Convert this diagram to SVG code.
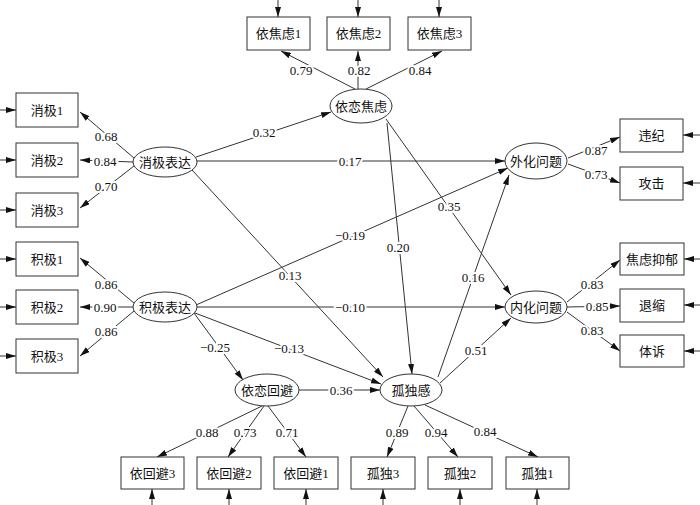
<svg xmlns="http://www.w3.org/2000/svg" width="700" height="505" viewBox="0 0 700 505">
<defs>
<marker id="a" viewBox="0 0 10 6" refX="10" refY="3" markerWidth="10" markerHeight="6" orient="auto" markerUnits="userSpaceOnUse"><path d="M0,0 L10,3 L0,6 z" fill="#111"/></marker>
<style>
text{font-family:"Liberation Serif","Noto Sans CJK SC",serif;font-size:13px;fill:#111;text-anchor:middle;dominant-baseline:central}
.n rect,.n ellipse{fill:#fff;stroke:#333;stroke-width:1}
.c path{fill:none;stroke:#333;stroke-width:1;marker-end:url(#a)}
.l text{stroke:#fff;stroke-width:4;paint-order:stroke}
</style>
</defs>
<rect width="700" height="505" fill="#fff"/>
<g class="c" id="connectors">
<path d="M196,157 L331,112"/>
<path d="M197,161 L505,161"/>
<path d="M192,170 L383,377"/>
<path d="M387,123 L412,374"/>
<path d="M386,119 L511,295"/>
<path d="M196,305 L508,168"/>
<path d="M196,307 L505,307"/>
<path d="M195,313 L381,384"/>
<path d="M194,313 L243,380"/>
<path d="M299,390 L380,390"/>
<path d="M438,377 L509,175"/>
<path d="M440,383 L511,318"/>
<path d="M355,89 L281,51"/>
<path d="M358,89 L358,51"/>
<path d="M366,89 L442,51"/>
<path d="M134,158 L80,112"/>
<path d="M133,162 L80,160"/>
<path d="M134,166 L80,208"/>
<path d="M134,303 L80,258"/>
<path d="M134,307 L80,307"/>
<path d="M134,311 L80,356"/>
<path d="M568,158 L620,137"/>
<path d="M568,164 L620,183"/>
<path d="M567,302 L620,260"/>
<path d="M567,307 L620,306"/>
<path d="M567,312 L620,351"/>
<path d="M262,406 L157,457"/>
<path d="M264,406 L228,457"/>
<path d="M268,406 L306,457"/>
<path d="M408,406 L387,457"/>
<path d="M414,406 L458,457"/>
<path d="M425,405 L538,457"/>
<path d="M278,0 L278,17"/>
<path d="M358,0 L358,17"/>
<path d="M439,0 L439,17"/>
<path d="M0,110 L16,110"/>
<path d="M0,160 L16,160"/>
<path d="M0,210 L16,210"/>
<path d="M0,259 L16,259"/>
<path d="M0,307 L16,307"/>
<path d="M0,356 L16,356"/>
<path d="M700,135 L683,135"/>
<path d="M700,183 L683,183"/>
<path d="M700,259 L684,259"/>
<path d="M700,305 L684,305"/>
<path d="M700,351 L684,351"/>
<path d="M152,505 L152,489"/>
<path d="M229,505 L229,489"/>
<path d="M306,505 L306,489"/>
<path d="M383,505 L383,489"/>
<path d="M460,505 L460,489"/>
<path d="M537,505 L537,489"/>
</g>
<g class="l" id="labels">
<text x="264" y="132">0.32</text>
<text x="350" y="161">0.17</text>
<text x="290" y="275">0.13</text>
<text x="398" y="247">0.20</text>
<text x="449" y="206">0.35</text>
<text x="350" y="235">−0.19</text>
<text x="350" y="307">−0.10</text>
<text x="289" y="348">−0.13</text>
<text x="215" y="347">−0.25</text>
<text x="341" y="390">0.36</text>
<text x="473" y="277">0.16</text>
<text x="476" y="350">0.51</text>
<text x="301" y="70">0.79</text>
<text x="359" y="70">0.82</text>
<text x="420" y="70">0.84</text>
<text x="106" y="136">0.68</text>
<text x="105" y="161">0.84</text>
<text x="106" y="186">0.70</text>
<text x="106" y="284">0.86</text>
<text x="105" y="307">0.90</text>
<text x="106" y="331">0.86</text>
<text x="596" y="150">0.87</text>
<text x="596" y="174">0.73</text>
<text x="592" y="284">0.83</text>
<text x="597" y="306">0.85</text>
<text x="592" y="330">0.83</text>
<text x="207" y="432">0.88</text>
<text x="245" y="432">0.73</text>
<text x="287" y="432">0.71</text>
<text x="397" y="432">0.89</text>
<text x="436" y="432">0.94</text>
<text x="485" y="431">0.84</text>
</g>
<g class="n" id="yljl"><ellipse cx="361" cy="106" rx="31" ry="17"/><text x="361" y="106">依恋焦虑</text></g>
<g class="n" id="xjbd"><ellipse cx="165" cy="162" rx="32" ry="15"/><text x="165" y="162">消极表达</text></g>
<g class="n" id="jjbd"><ellipse cx="165" cy="307" rx="32" ry="15"/><text x="165" y="307">积极表达</text></g>
<g class="n" id="whwt"><ellipse cx="536" cy="161" rx="31" ry="18"/><text x="536" y="161">外化问题</text></g>
<g class="n" id="nhwt"><ellipse cx="536" cy="307" rx="31" ry="16"/><text x="536" y="307">内化问题</text></g>
<g class="n" id="ylhb"><ellipse cx="267" cy="390" rx="32" ry="16"/><text x="267" y="390">依恋回避</text></g>
<g class="n" id="gdg"><ellipse cx="411" cy="390" rx="31" ry="16"/><text x="411" y="390">孤独感</text></g>
<g class="n" id="yjl1"><rect x="247" y="17" width="63" height="33"/><text x="278.5" y="33.5">依焦虑1</text></g>
<g class="n" id="yjl2"><rect x="327" y="17" width="63" height="33"/><text x="358.5" y="33.5">依焦虑2</text></g>
<g class="n" id="yjl3"><rect x="408" y="17" width="63" height="33"/><text x="439.5" y="33.5">依焦虑3</text></g>
<g class="n" id="xj1"><rect x="16" y="93" width="62" height="34"/><text x="47" y="110">消极1</text></g>
<g class="n" id="xj2"><rect x="16" y="143" width="62" height="34"/><text x="47" y="160">消极2</text></g>
<g class="n" id="xj3"><rect x="16" y="193" width="62" height="34"/><text x="47" y="210">消极3</text></g>
<g class="n" id="jj1"><rect x="16" y="242" width="62" height="34"/><text x="47" y="259">积极1</text></g>
<g class="n" id="jj2"><rect x="16" y="290" width="62" height="34"/><text x="47" y="307">积极2</text></g>
<g class="n" id="jj3"><rect x="16" y="339" width="62" height="34"/><text x="47" y="356">积极3</text></g>
<g class="n" id="wj"><rect x="620" y="119" width="63" height="33"/><text x="651.5" y="135.5">违纪</text></g>
<g class="n" id="gj"><rect x="620" y="167" width="63" height="33"/><text x="651.5" y="183.5">攻击</text></g>
<g class="n" id="jlyy"><rect x="620" y="243" width="64" height="32"/><text x="652" y="259">焦虑抑郁</text></g>
<g class="n" id="ts"><rect x="620" y="289" width="64" height="33"/><text x="652" y="305.5">退缩</text></g>
<g class="n" id="ts2"><rect x="620" y="335" width="64" height="32"/><text x="652" y="351">体诉</text></g>
<g class="n" id="yhb3"><rect x="121" y="457" width="63" height="32"/><text x="152.5" y="473">依回避3</text></g>
<g class="n" id="yhb2"><rect x="197" y="457" width="64" height="32"/><text x="229" y="473">依回避2</text></g>
<g class="n" id="yhb1"><rect x="274" y="457" width="64" height="32"/><text x="306" y="473">依回避1</text></g>
<g class="n" id="gd3"><rect x="351" y="457" width="64" height="32"/><text x="383" y="473">孤独3</text></g>
<g class="n" id="gd2"><rect x="428" y="457" width="64" height="32"/><text x="460" y="473">孤独2</text></g>
<g class="n" id="gd1"><rect x="506" y="457" width="63" height="32"/><text x="537.5" y="473">孤独1</text></g>
</svg>
